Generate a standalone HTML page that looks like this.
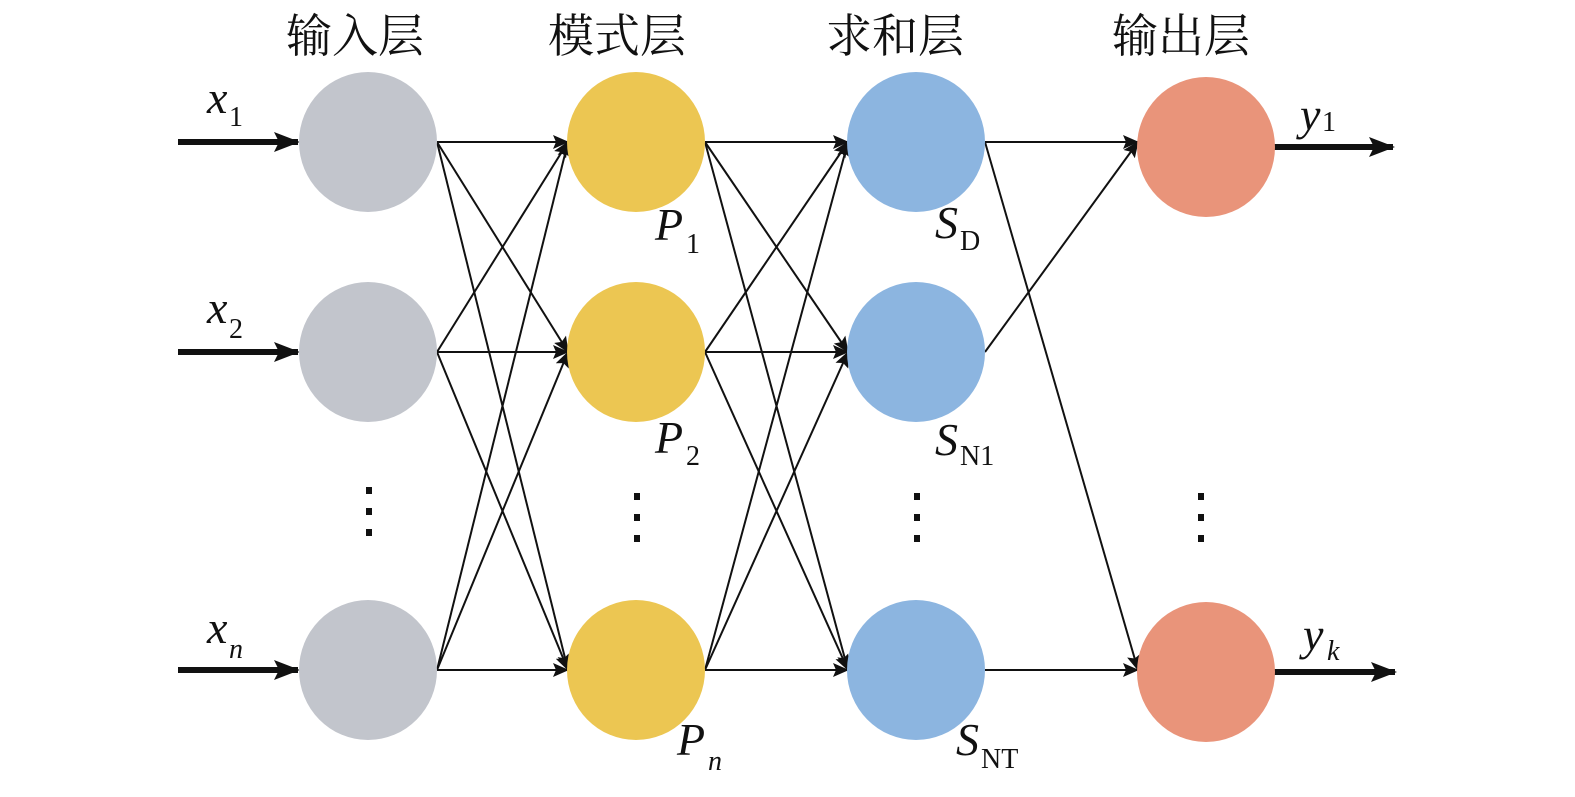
<!DOCTYPE html>
<html><head><meta charset="utf-8"><style>
body{margin:0;background:#fff}
svg{display:block}
.h{font-family:"Noto Serif CJK SC","Noto Sans CJK SC",serif;font-size:46px;fill:#111}
.m{font-family:"Liberation Serif",serif;font-style:italic;font-size:46px;fill:#111}
.s{font-family:"Liberation Serif",serif;font-size:28px;fill:#111}
</style></head><body>
<svg width="1575" height="797" viewBox="0 0 1575 797" xmlns="http://www.w3.org/2000/svg">
<defs>
<marker id="b" markerWidth="26" markerHeight="20" refX="24" refY="10" orient="auto" markerUnits="userSpaceOnUse"><path d="M0,0 L26,10 L0,20 L5,10 Z" fill="#111"/></marker>
<marker id="c" markerWidth="16" markerHeight="14" refX="15" refY="7" orient="auto" markerUnits="userSpaceOnUse"><path d="M0,0 L16,7 L0,14 L3,7 Z" fill="#111"/></marker>
</defs>
<text class="h" x="286" y="52">输入层</text>
<text class="h" x="548" y="52">模式层</text>
<text class="h" x="826" y="52">求和层</text>
<text class="h" x="1112" y="52">输出层</text>
<g stroke="#111" stroke-width="2" marker-end="url(#c)" fill="none">
<line x1="437" y1="142" x2="568" y2="142"/><line x1="437" y1="142" x2="568" y2="352"/><line x1="437" y1="142" x2="568" y2="670"/>
<line x1="437" y1="352" x2="568" y2="142"/><line x1="437" y1="352" x2="568" y2="352"/><line x1="437" y1="352" x2="568" y2="670"/>
<line x1="437" y1="670" x2="568" y2="142"/><line x1="437" y1="670" x2="568" y2="352"/><line x1="437" y1="670" x2="568" y2="670"/>
<line x1="705" y1="142" x2="848" y2="142"/><line x1="705" y1="142" x2="848" y2="352"/><line x1="705" y1="142" x2="848" y2="670"/>
<line x1="705" y1="352" x2="848" y2="142"/><line x1="705" y1="352" x2="848" y2="352"/><line x1="705" y1="352" x2="848" y2="670"/>
<line x1="705" y1="670" x2="848" y2="142"/><line x1="705" y1="670" x2="848" y2="352"/><line x1="705" y1="670" x2="848" y2="670"/>
<line x1="985" y1="142" x2="1138" y2="142"/><line x1="985" y1="142" x2="1138" y2="670"/>
<line x1="985" y1="352" x2="1138" y2="142"/><line x1="985" y1="670" x2="1138" y2="670"/>
</g>
<g stroke="#111" stroke-width="6" marker-end="url(#b)">
<line x1="178" y1="142" x2="298" y2="142"/><line x1="178" y1="352" x2="298" y2="352"/><line x1="178" y1="670" x2="298" y2="670"/>
<line x1="1272" y1="147" x2="1393" y2="147"/><line x1="1272" y1="672" x2="1395" y2="672"/>
</g>
<g fill="#c2c5cc"><ellipse cx="368" cy="142" rx="69" ry="70"/><ellipse cx="368" cy="352" rx="69" ry="70"/><ellipse cx="368" cy="670" rx="69" ry="70"/></g>
<g fill="#ecc652"><ellipse cx="636" cy="142" rx="69" ry="70"/><ellipse cx="636" cy="352" rx="69" ry="70"/><ellipse cx="636" cy="670" rx="69" ry="70"/></g>
<g fill="#8cb5e0"><ellipse cx="916" cy="142" rx="69" ry="70"/><ellipse cx="916" cy="352" rx="69" ry="70"/><ellipse cx="916" cy="670" rx="69" ry="70"/></g>
<g fill="#e9947a"><ellipse cx="1206" cy="147" rx="69" ry="70"/><ellipse cx="1206" cy="672" rx="69" ry="70"/></g>
<g fill="#111">
<rect x="366" y="487" width="6" height="7"/><rect x="366" y="508" width="6" height="7"/><rect x="366" y="529" width="6" height="7"/>
<rect x="634" y="493" width="6" height="7"/><rect x="634" y="514" width="6" height="7"/><rect x="634" y="535" width="6" height="7"/>
<rect x="914" y="493" width="6" height="7"/><rect x="914" y="514" width="6" height="7"/><rect x="914" y="535" width="6" height="7"/>
<rect x="1198" y="493" width="6" height="7"/><rect x="1198" y="514" width="6" height="7"/><rect x="1198" y="535" width="6" height="7"/>
</g>
<text class="m" x="207" y="113">x</text><text class="s" x="229" y="126">1</text>
<text class="m" x="207" y="323">x</text><text class="s" x="229" y="338">2</text>
<text class="m" x="207" y="643">x</text><text class="s" x="229" y="658" font-style="italic">n</text>
<text class="m" x="655" y="240">P</text><text class="s" x="686" y="253">1</text>
<text class="m" x="655" y="453">P</text><text class="s" x="686" y="465">2</text>
<text class="m" x="677" y="755">P</text><text class="s" x="708" y="770" font-style="italic">n</text>
<text class="m" x="935" y="238">S</text><text class="s" x="960" y="250">D</text>
<text class="m" x="935" y="455">S</text><text class="s" x="960" y="465">N1</text>
<text class="m" x="956" y="755">S</text><text class="s" x="981" y="768">NT</text>
<text class="m" x="1300" y="130">y</text><text class="s" x="1322" y="131">1</text>
<text class="m" x="1303" y="650">y</text><text class="s" x="1327" y="660" font-style="italic">k</text>
</svg>
</body></html>
